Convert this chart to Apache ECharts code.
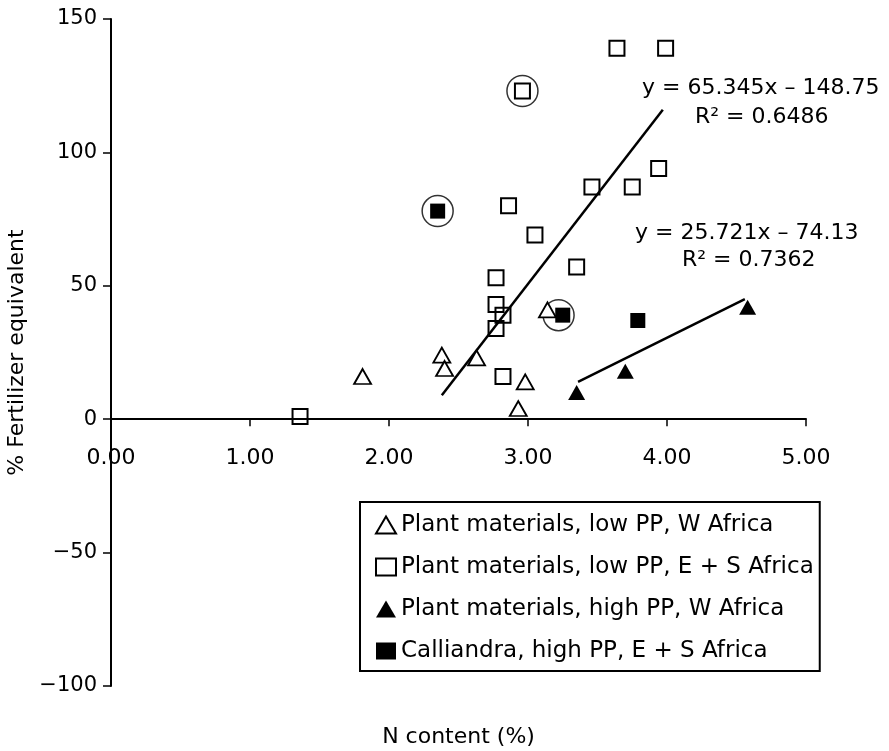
<!DOCTYPE html>
<html>
<head>
<meta charset="utf-8">
<title>Fertilizer equivalent vs N content</title>
<script src="https://cdn.jsdelivr.net/npm/echarts@6/dist/echarts.min.js"></script>
<style>
  html, body { margin: 0; padding: 0; background: #fff; }
  #chart { width: 889px; height: 751px; }
</style>
</head>
<body>
<div id="chart"></div>
<script>
// points: [N content (%), % fertilizer equivalent]
var lowPPWest = [[1.81, 16], [2.38, 24], [2.40, 19], [2.63, 23], [2.93, 4], [2.98, 14], [3.14, 41]];
var lowPPEastSouth = [[1.36, 1], [2.77, 34], [2.82, 39], [2.77, 43], [2.77, 53], [2.82, 16],
  [2.86, 80], [2.96, 123], [3.05, 69], [3.35, 57], [3.46, 87], [3.75, 87], [3.94, 94],
  [3.64, 139], [3.99, 139]];
var highPPWest = [[3.35, 10], [3.70, 18], [4.58, 42]];
var calliandra = [[2.35, 78], [3.25, 39], [3.79, 37]];
// points ringed in the figure
var circled = [[2.35, 78], [2.96, 123], [3.22, 39]];
// ends of the two fitted lines as drawn
var fitLow = [[2.38, 9], [3.97, 116]];
var fitHigh = [[3.36, 14], [4.56, 45]];

var seriesNames = ['Plant materials, low PP, W Africa', 'Plant materials, low PP, E + S Africa',
  'Plant materials, high PP, W Africa', 'Calliandra, high PP, E + S Africa'];
var xTicks = [0, 1, 2, 3, 4, 5];
var yTicks = [-100, -50, 0, 50, 100, 150];
var eqLow = ['y = 65.345x \u2013 148.75', 'R\u00b2 = 0.6486'];
var eqHigh = ['y = 25.721x \u2013 74.13', 'R\u00b2 = 0.7362'];

var font = 'DejaVu Sans';

var myChart = echarts.init(document.getElementById('chart'));

// the x axis crosses at y = 0, so it is lifted off the grid bottom
var plotTop = 19, plotBottom = 686;
var zeroY = plotTop + (plotBottom - plotTop) * (yTicks[yTicks.length - 1] / (yTicks[yTicks.length - 1] - yTicks[0]));

var option = {
  animation: false,
  backgroundColor: '#fff',
  grid: {
    left: 111,
    right: 83,
    top: plotTop,
    bottom: 751 - plotBottom,
    containLabel: false,
    outerBoundsMode: 'none'
  },
  legend: {
    data: seriesNames,
    orient: 'vertical',
    left: 360,
    top: 502,
    padding: [10, 6, 7, 15],
    itemGap: 16,
    itemWidth: 20,
    itemHeight: 17,
    borderColor: '#000',
    borderWidth: 2,
    borderRadius: 0,
    textStyle: {
      fontFamily: font,
      fontSize: 23,
      lineHeight: 26,
      color: '#000'
    }
  },
  xAxis: {
    type: 'value',
    min: xTicks[0],
    max: xTicks[xTicks.length - 1],
    interval: 1,
    position: 'bottom',
    offset: -(plotBottom - zeroY),
    name: 'N content (%)',
    nameLocation: 'middle',
    nameGap: 307,
    nameTextStyle: { fontFamily: font, fontSize: 22, color: '#000' },
    axisLine: { onZero: false, lineStyle: { color: '#000', width: 2 } },
    axisTick: { show: true, length: 7, lineStyle: { color: '#000', width: 1.5 } },
    axisLabel: {
      margin: 28,
      fontFamily: font,
      fontSize: 22,
      color: '#000',
      formatter: function (v) { return v.toFixed(2); }
    },
    splitLine: { show: false }
  },
  yAxis: {
    type: 'value',
    min: yTicks[0],
    max: yTicks[yTicks.length - 1],
    interval: 50,
    name: '% Fertilizer equivalent',
    nameLocation: 'middle',
    nameGap: 73,
    nameTextStyle: { fontFamily: font, fontSize: 22, color: '#000' },
    axisLine: { onZero: false, lineStyle: { color: '#000', width: 2 } },
    axisTick: { show: true, length: 8, lineStyle: { color: '#000', width: 1.5 } },
    axisLabel: {
      margin: 14,
      fontFamily: font,
      fontSize: 21,
      color: '#000',
      formatter: function (v) { return String(v).replace('-', '\u2212'); }
    },
    splitLine: { show: false }
  },
  graphic: [
    { type: 'text', left: 642, top: 77, style: { text: eqLow[0], font: '22px "DejaVu Sans"', fill: '#000' } },
    { type: 'text', left: 695, top: 106, style: { text: eqLow[1], font: '22px "DejaVu Sans"', fill: '#000' } },
    { type: 'text', left: 635, top: 222, style: { text: eqHigh[0], font: '22px "DejaVu Sans"', fill: '#000' } },
    { type: 'text', left: 682, top: 249, style: { text: eqHigh[1], font: '22px "DejaVu Sans"', fill: '#000' } }
  ],
  series: [
    {
      name: 'fit low',
      type: 'line',
      data: fitLow,
      symbol: 'none',
      lineStyle: { color: '#000', width: 2.5 },
      z: 1
    },
    {
      name: 'fit high',
      type: 'line',
      data: fitHigh,
      symbol: 'none',
      lineStyle: { color: '#000', width: 2.5 },
      z: 1
    },
    {
      name: 'circled',
      type: 'scatter',
      data: circled,
      symbol: 'circle',
      symbolSize: 31,
      itemStyle: { color: 'rgba(0,0,0,0)', borderColor: '#000', borderWidth: 1.5 },
      z: 1
    },
    {
      name: seriesNames[0],
      type: 'scatter',
      data: lowPPWest,
      symbol: 'triangle',
      symbolSize: [17, 15],
      itemStyle: { color: '#fff', borderColor: '#000', borderWidth: 1.8, opacity: 1 }
    },
    {
      name: seriesNames[1],
      type: 'scatter',
      data: lowPPEastSouth,
      symbol: 'rect',
      symbolSize: 15,
      itemStyle: { color: 'rgba(255,255,255,0)', borderColor: '#000', borderWidth: 2, opacity: 1 }
    },
    {
      name: seriesNames[2],
      type: 'scatter',
      data: highPPWest,
      symbol: 'triangle',
      symbolSize: [17, 15],
      itemStyle: { color: '#000', opacity: 1 }
    },
    {
      name: seriesNames[3],
      type: 'scatter',
      data: calliandra,
      symbol: 'rect',
      symbolSize: 15,
      itemStyle: { color: '#000', opacity: 1 }
    }
  ]
};

myChart.setOption(option);
</script>
</body>
</html>
